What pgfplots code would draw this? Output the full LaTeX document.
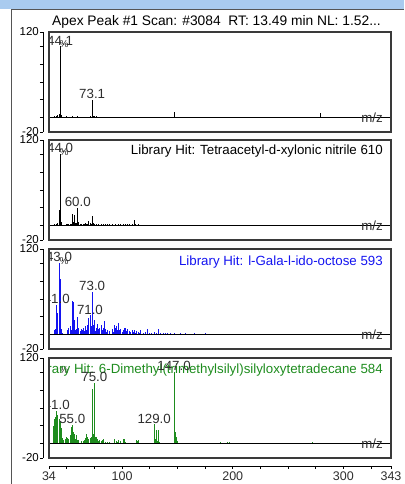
\documentclass[border=0pt]{standalone}
\usepackage{pgfplots}
\usepackage{pgfplotstable}
\pgfplotsset{compat=1.18}
\usepackage{fontspec}
\setmainfont{Liberation Sans}

\definecolor{framebar}{HTML}{A9CBEF}
\definecolor{framegray}{HTML}{555555}
\definecolor{boxgray}{HTML}{3A3A3A}
\definecolor{hitblue}{HTML}{1414F0}
\definecolor{hitgreen}{HTML}{1E8C1E}
\definecolor{labgray}{HTML}{2E2E2E}

% measured scan (apex peak #1)
\pgfplotstableread{
mz int
38 1
39 2
40 1.5
41 3
42 4
43 5
44 100
45 4
46 1
50 2
51 1
53 1.5
55 2
57 1.5
60 2
69 1.5
71 3
73 24.5
74 3
75 3
76 1.5
77 2
79 1
81 1
85 1
91 1
96 1
101 1
105 1.5
111 1
117 1
121 1
129 1.5
133 1
135 1
141 1
147 8
148 1.5
155 1
163 1
170 1
177 1
185 1
191 1.5
199 1
207 1
213 1
221 1
228 1
235 1
243 1
249 1
257 1
263 1
270 1
277 1.5
279 6
281 1.5
285 1
291 1
296 1
}\scanA

% library hit: tetraacetyl-d-xylonic nitrile
\pgfplotstableread{
mz int
39 2
41 3
42 4
43 22
44 100
45 5
50 2
51 3
52 3
53 3
54 2
55 16
56 5
57 15
58 4
59 4
60 25
61 5
62 2
63 2
65 3
66 2
67 4
68 2
69 3
70 6
71 4
72 3
73 14
74 4
75 3
77 2
79 2
81 2
83 2
85 3
87 2
89 2
91 2
94 2
97 2
99 2
101 2
103 3
105 2
107 2
109 3
111 8
112 2
115 2
117 1.5
123 1
127 1
129 1
139 1.5
145 1
152 1
157 1
166 1
175 0.8
187 0.8
199 0.8
215 0.8
230 0.8
245 0.8
}\hitB

% library hit: l-Gala-l-ido-octose
\pgfplotstableread{
mz int
39 6
40 8
41 42
42 30
43 100
44 78
45 8
46 3
51 6
52 10
53 12
54 7
55 47
56 46
57 20
58 6
59 8
60 25
61 10
62 5
63 8
64 6
65 10
66 5
67 12
68 7
69 14
70 24
71 27
72 12
73 60
74 14
75 20
76 5
77 9
78 15
79 8
80 10
81 14
82 6
83 10
84 19
85 8
86 4
87 6
89 5
91 8
92 4
93 13
94 10
95 12
96 6
97 17
98 7
99 8
100 4
101 6
102 9
103 10
104 5
105 8
107 5
108 4
109 6
110 4
111 7
112 3
113 5
115 4
116 3
117 6
119 3
121 4
123 8
125 3
127 3
129 4
131 3
133 8
135 3
137 2
139 3
141 2
144 3
147 2
153 3
157 2
161 1.5
165 2
175 3
181 1
193 1.5
211 1.2
227 0.8
}\hitC

% library hit: 6-dimethyl(trimethylsilyl)silyloxytetradecane
\pgfplotstableread{
mz int
38 25
39 35
40 38
41 46
42 40
43 35
44 30
45 22
46 8
47 5
49 6
50 10
51 8
52 7
53 12
54 24
55 26
56 17
57 14
58 6
59 12
60 5
61 5
63 4
65 4
66 5
67 8
68 13
69 9
70 7
71 8
72 10
73 76
74 13
75 85
76 10
77 9
78 6
79 4
80 5
81 4
82 5
83 6
85 3
87 2
89 3
93 7
95 4
96 3
97 5
99 4
101 6
102 7
103 3
107 1.5
113 5
114 4
115 5
117 1.5
121 1
129 27
130 6
131 19
132 4
133 19
134 2
141 1
147 100
148 16
149 10
150 4
151 1.5
157 1
163 1
175 1.5
189 2
191 1.5
195 3
197 2
211 1
229 1
251 1
272 2
273 1.5
}\hitD

\pgfplotsset{
  spectrum/.style={
    scale only axis,
    width=342pt, height=100pt,
    anchor=north west,
    xmin=34, xmax=343, ymin=-20, ymax=120,
    axis y line*=left,
    axis y line shift=6pt,
    ytick={-20,0,25,50,75,100,120},
    yticklabels={-20,,,,,,120},
    tick align=outside,
    major tick length=3pt,
    minor tick length=3pt,
    y axis line style={black, line width=0.8pt},
    tick style={black, line width=0.8pt},
    yticklabel style={font=\fontsize{11.5}{12}\selectfont, inner sep=1pt},
    extra description/.code={
      \draw[boxgray, line width=1.3pt] (0,0) rectangle (1,1);
    },
  },
  noxaxis/.style={axis x line=none},
  peaks/.style={ycomb, line width=0.9pt, mark=none},
}

\tikzset{
  lab/.style={anchor=south, inner sep=1pt, text=labgray},
  hit/.style={anchor=east, inner sep=0pt},
}

% baseline, unit label and intensity symbol of one panel
\newcommand\panelframe{%
  \draw[black, line width=0.8pt] (axis cs:34,0) -- (axis cs:343,0);
  \node[anchor=east, inner sep=0pt, text=labgray] at (axis cs:343,0) [xshift=-8pt] {m/z};
  \node[inner sep=0pt, text=labgray, font=\fontsize{10}{12}\selectfont] at (rel axis cs:0,1) [xshift=15pt, yshift=-12pt] {\%};
}

\begin{document}
\begin{tikzpicture}[font=\fontsize{13.3}{15}\selectfont]
\useasboundingbox (0,0) rectangle (404pt,484pt);
% window frame
\fill[framebar] (0,474.5pt) rectangle (404pt,484pt);
\draw[framegray, line width=1pt] (11.5pt,0) -- (11.5pt,474pt) -- (404pt,474pt);

% panel 1: measured spectrum
\begin{axis}[spectrum, noxaxis, at={(49pt,452pt)},
  title={Apex Peak \#1 Scan: \#3084\ \ RT: 13.49 min NL: 1.52...},
  title style={at={(0,1)}, anchor=base west, xshift=3pt, inner sep=0pt,
    font=\fontsize{13.8}{15}\selectfont}]
\addplot[peaks, black] table[x=mz, y=int] {\scanA};
\panelframe
\node[lab] at (axis cs:44,100) {44.1};
\node[lab] at (axis cs:73,24.5) {73.1};
\end{axis}

% panel 2
\begin{axis}[spectrum, noxaxis, at={(49pt,344pt)}]
\addplot[peaks, black] table[x=mz, y=int] {\hitB};
\panelframe
\node[hit, text=black] at (rel axis cs:1,1) [xshift=-8pt, yshift=-11pt] {Library Hit: Tetraacetyl-d-xylonic nitrile 610};
\node[lab] at (axis cs:44,100) {44.0};
\node[lab] at (axis cs:60,25) {60.0};
\end{axis}

% panel 3
\begin{axis}[spectrum, noxaxis, at={(49pt,235pt)}]
\addplot[peaks, hitblue] table[x=mz, y=int] {\hitC};
\panelframe
\node[hit, text=hitblue] at (rel axis cs:1,1) [xshift=-8pt, yshift=-13pt] {Library Hit: l-Gala-l-ido-octose 593};
\node[lab] at (axis cs:43,100) {43.0};
\node[lab] at (axis cs:41,42) {41.0};
\node[lab] at (axis cs:73,60) {73.0};
\node[lab] at (axis cs:71,27) {71.0};
\end{axis}

% panel 4 with the m/z axis
\begin{axis}[spectrum, at={(49pt,126pt)},
  axis x line*=bottom,
  axis x line shift=8pt,
  xtick={34,100,200,300,343},
  minor xtick={50,75,125,150,175,225,250,275,325},
  x axis line style={black, line width=0.8pt},
  xticklabel style={font=\fontsize{12.5}{14}\selectfont, inner sep=1pt, text=labgray, yshift=-2pt},
  /pgf/number format/assume math mode=true]
\addplot[peaks, hitgreen] table[x=mz, y=int] {\hitD};
\panelframe
\node[hit, text=hitgreen] at (rel axis cs:1,1) [xshift=-8pt, yshift=-12pt] {Library Hit: 6-Dimethyl(trimethylsilyl)silyloxytetradecane 584};
\node[lab] at (axis cs:147,100) {147.0};
\node[lab] at (axis cs:75,85) {75.0};
\node[lab] at (axis cs:41,46) {41.0};
\node[lab] at (axis cs:55,26) {55.0};
\node[lab] at (axis cs:129,27) {129.0};
\end{axis}
\end{tikzpicture}
\end{document}
